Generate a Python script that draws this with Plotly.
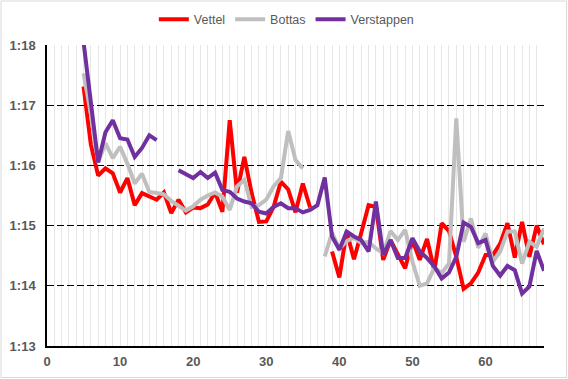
import plotly.graph_objects as go

laps = list(range(5, 69))

vettel = [77.31, 76.35, 75.83, 75.95, 75.87, 75.55, 75.79, 75.34, 75.54, 75.48,
          75.43, 75.55, 75.21, 75.43, 75.22, 75.30, 75.29, 75.35, 75.55, 75.23,
          76.75, 75.55, 76.14, 75.54, 75.06, 75.07, 75.31, 75.73, 75.60, 75.22,
          75.70, 75.30, None, None, 74.57, 74.14, 74.90, 74.44, 74.88, 75.34,
          75.31, 74.43, 74.76, 74.54, 74.29, 74.76, 74.43, 74.78, 74.25, 75.04,
          74.91, 74.48, 73.95, 74.04, 74.22, 74.51, 74.51, 74.70, 75.04, 74.47,
          75.06, 74.48, 75.00, 74.69]

bottas = [77.53, 76.85, 76.05, 76.37, 76.12, 76.31, 76.03, 75.70, 75.86, 75.56,
          75.54, 75.52, 75.41, 75.33, 75.25, 75.32, 75.43, 75.50, 75.55, 75.48,
          75.26, 75.65, 75.76, 75.31, 75.34, 75.43, 75.65, 75.79, 76.57, 76.09,
          75.95, None, None, 74.49, 74.88, 74.62, 74.74, 74.80, 74.71, 74.73,
          74.62, 74.54, 74.91, 74.76, 74.93, 74.40, 74.00, 74.04, 74.30, 74.21,
          74.37, 76.78, 74.73, 75.12, 74.63, 74.87, 74.40, 74.57, 74.90, 74.90,
          74.37, 74.73, 74.65, 74.95]

verstappen = [78.05, 77.00, 76.05, 76.55, 76.75, 76.45, 76.43, 76.14, 76.29, 76.50,
              76.42, None, None, 75.92, 75.86, 75.79, 75.89, 75.79, 75.88, 75.59,
              75.56, 75.45, 75.40, 75.37, 75.23, 75.20, 75.31, 75.37, 75.29, 75.29,
              75.22, 75.26, 75.34, 75.80, 74.82, 74.60, 74.90, 74.82, 74.76, 74.57,
              75.40, 74.51, 74.76, 74.46, 74.46, 74.79, 74.57, 74.46, 74.32, 74.12,
              74.22, 74.48, 75.05, 74.98, 74.71, 74.76, 74.33, 74.17, 74.33, 74.26,
              73.87, 73.99, 74.58, 74.25]

y_ticks = [73, 74, 75, 76, 77, 78]
y_labels = ["1:13", "1:14", "1:15", "1:16", "1:17", "1:18"]
x_ticks = [0, 10, 20, 30, 40, 50, 60]

series = [("Vettel", vettel, "#FF0000"),
          ("Bottas", bottas, "#BFBFBF"),
          ("Verstappen", verstappen, "#7030A0")]

fig = go.Figure()
for name, vals, col in series:
    fig.add_trace(go.Scatter(x=laps, y=vals, mode="lines", name=name,
                             line=dict(color=col, width=4), connectgaps=False))

W, H = 568, 379
ml, mr, mt, mb = 47, 24, 45, 33
pw, ph = W - ml - mr, H - mt - mb

tickfont = dict(family="Arial", size=13, color="#595959", weight="bold")

fig.update_layout(
    width=W, height=H,
    margin=dict(l=ml, r=mr, t=mt, b=mb, autoexpand=False),
    paper_bgcolor="white", plot_bgcolor="white",
    showlegend=True,
    legend=dict(orientation="h", xref="container", yref="container",
                x=0.505, xanchor="center", y=1 - 19.5 / H, yanchor="middle",
                font=dict(family="Arial", size=12.5, color="#595959"),
                itemwidth=30, tracegroupgap=0, bgcolor="rgba(0,0,0,0)"),
    xaxis=dict(range=[0, 68], tickvals=x_ticks, showgrid=True, automargin=False,
               gridcolor="#E6E6E6", gridwidth=1,
               minor=dict(dtick=1, tick0=0, showgrid=True, gridcolor="#E6E6E6", gridwidth=1),
               showline=True, linecolor="black", linewidth=1.5,
               zeroline=False, ticks="", ticklabelstandoff=3, tickfont=tickfont),
    yaxis=dict(range=[73, 78], tickvals=y_ticks, ticktext=y_labels, automargin=False,
               showgrid=True, gridcolor="black", gridwidth=1, griddash="7px,3px",
               showline=True, linecolor="black", linewidth=1.5,
               zeroline=False, ticks="", ticklabelstandoff=7, tickfont=tickfont),
    shapes=[dict(type="rect", xref="paper", yref="paper",
                 x0=(1 - ml) / pw, x1=(W - 1.5 - ml) / pw,
                 y0=-(H - 1.5 - (mt + ph)) / ph, y1=1 + (mt - 1) / ph,
                 line=dict(color="#D9D9D9", width=1), layer="below")],
)

fig.write_html("out.html", config={"displayModeBar": False},
               post_script="document.body.style.margin='0';document.body.style.overflow='hidden';")
